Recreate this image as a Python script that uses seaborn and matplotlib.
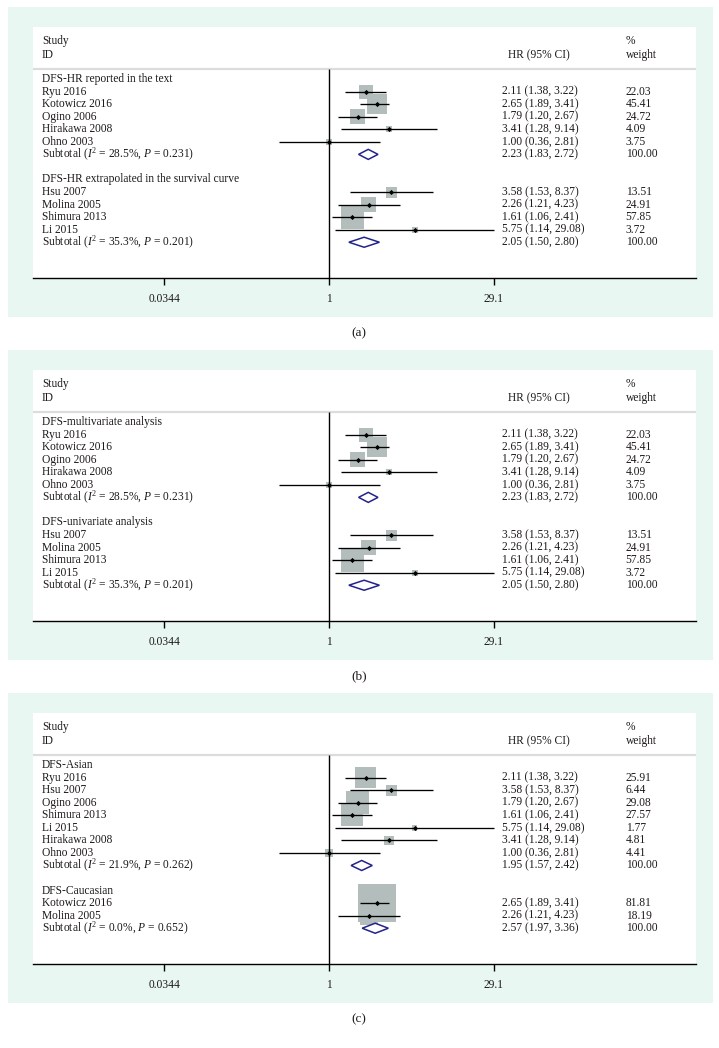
import numpy as np
import pandas as pd
import matplotlib
matplotlib.use("Agg")
import matplotlib.pyplot as plt
import matplotlib.transforms as mtransforms
from matplotlib.patches import Rectangle, Polygon
from matplotlib.ticker import NullLocator
import seaborn as sns

sns.set_style("white")
plt.rcParams['font.family'] = ['Liberation Serif', 'DejaVu Serif']
plt.rcParams['mathtext.fontset'] = 'custom'
plt.rcParams['mathtext.rm'] = 'Liberation Serif'
plt.rcParams['mathtext.it'] = 'Liberation Serif:italic'

# DFS-HR reported in the text / multivariate
ids_text = ["Ryu 2016", "Kotowicz 2016", "Ogino 2006", "Hirakawa 2008", "Ohno 2003"]
hr_text = [2.11, 2.65, 1.79, 3.41, 1.00]
lo_text = [1.38, 1.89, 1.20, 1.28, 0.36]
hi_text = [3.22, 3.41, 2.67, 9.14, 2.81]
w_text = [22.03, 45.41, 24.72, 4.09, 3.75]
sub_text = [2.23, 1.83, 2.72]
het_text = ["28.5%", "0.231"]

# DFS-HR extrapolated in the survival curve / univariate
ids_curve = ["Hsu 2007", "Molina 2005", "Shimura 2013", "Li 2015"]
hr_curve = [3.58, 2.26, 1.61, 5.75]
lo_curve = [1.53, 1.21, 1.06, 1.14]
hi_curve = [8.37, 4.23, 2.41, 29.08]
w_curve = [13.51, 24.91, 57.85, 3.72]
sub_curve = [2.05, 1.50, 2.80]
het_curve = ["35.3%", "0.201"]

# DFS-Asian
ids_asian = ["Ryu 2016", "Hsu 2007", "Ogino 2006", "Shimura 2013", "Li 2015", "Hirakawa 2008", "Ohno 2003"]
hr_asian = [2.11, 3.58, 1.79, 1.61, 5.75, 3.41, 1.00]
lo_asian = [1.38, 1.53, 1.20, 1.06, 1.14, 1.28, 0.36]
hi_asian = [3.22, 8.37, 2.67, 2.41, 29.08, 9.14, 2.81]
w_asian = [25.91, 6.44, 29.08, 27.57, 1.77, 4.81, 4.41]
sub_asian = [1.95, 1.57, 2.42]
het_asian = ["21.9%", "0.262"]

# DFS-Caucasian
ids_cauc = ["Kotowicz 2016", "Molina 2005"]
hr_cauc = [2.65, 2.26]
lo_cauc = [1.89, 1.21]
hi_cauc = [3.41, 4.23]
w_cauc = [81.81, 18.19]
sub_cauc = [2.57, 1.97, 3.36]
het_cauc = ["0.0%", "0.652"]

xticks = [0.0344, 1, 29.1]
xtick_labels = ["0.0344", "1", "29.1"]

W, H = 719, 1048
fig = plt.figure(figsize=(W / 100, H / 100), dpi=100)
mint = "#e9f7f3"
txt = "#1e1a1b"
box_gray = "#b3bdbb"
navy = "#23238c"
fs = 8.3


def panel(top, groups, k, caption):
    fig.add_artist(Rectangle((8 / W, 1 - (top + 310) / H), 705 / W, 310 / H,
                             transform=fig.transFigure, facecolor=mint,
                             edgecolor='none', zorder=-1))
    ax = fig.add_axes([33 / W, 1 - (top + 271) / H, 663 / W, 251 / H])
    ax.set_facecolor("white")
    tr = mtransforms.blended_transform_factory(ax.transAxes, ax.transData)

    # шапка таблицы
    ax.text(0.0136, -3.03, "Study", transform=tr, ha='left', va='center', fontsize=fs, color=txt)
    ax.text(0.0136, -1.91, "ID", transform=tr, ha='left', va='center', fontsize=fs, color=txt)
    ax.text(0.763, -1.91, "HR (95% CI)", transform=tr, ha='center', va='center', fontsize=fs, color=txt)
    ax.text(0.894, -3.03, "%", transform=tr, ha='left', va='center', fontsize=fs, color=txt)
    ax.text(0.894, -1.91, "weight", transform=tr, ha='left', va='center', fontsize=fs, color=txt)
    ax.axhline(-0.8, color="#dcdcdc", lw=1.6, zorder=1)
    ax.vlines(1, -0.8, 15.85, color='black', lw=1, zorder=2)

    row = 0
    for title, ids, hr, lo, hi, w, sub, het in groups:
        ax.text(0.0136, row, title, transform=tr, ha='left', va='center', fontsize=fs, color=txt)
        row += 1
        rows = np.arange(row, row + len(ids))
        df = pd.DataFrame({"hr": hr, "row": rows, "w": w})
        sns.scatterplot(data=df, x="hr", y="row", s=((k * 0.72) ** 2 * df["w"]).to_numpy(),
                        marker="s", color=box_gray, linewidth=0, ax=ax, legend=False, zorder=1)
        ax.hlines(rows, lo, hi, color='black', lw=0.95, zorder=3)
        ax.scatter(hr, rows, marker='D', s=7, color='black', linewidths=0, zorder=4)
        for r, name, h, l, u, ww in zip(rows, ids, hr, lo, hi, w):
            ax.text(0.0136, r, name, transform=tr, ha='left', va='center', fontsize=fs, color=txt)
            ax.text(0.707, r, f"{h:.2f} ({l:.2f}, {u:.2f})", transform=tr, ha='left', va='center', fontsize=fs, color=txt)
            ax.text(0.894, r, f"{ww:.2f}", transform=tr, ha='left', va='center', fontsize=fs, color=txt)
        row += len(ids)
        # суммарная оценка - ромб
        est, slo, shi = sub
        ax.add_patch(Polygon([[slo, row], [est, row - 0.4], [shi, row], [est, row + 0.4]],
                             closed=True, facecolor='white', edgecolor=navy, lw=1.1, zorder=4))
        ax.text(0.0136, row, f"Subtotal ($I^2$ = {het[0]}, $P$ = {het[1]})", transform=tr,
                ha='left', va='center', fontsize=fs, color=txt)
        ax.text(0.707, row, f"{est:.2f} ({slo:.2f}, {shi:.2f})", transform=tr, ha='left', va='center', fontsize=fs, color=txt)
        ax.text(0.894, row, "100.00", transform=tr, ha='left', va='center', fontsize=fs, color=txt)
        row += 2

    ax.set_xscale('log')
    ax.set_xlim(np.exp(-6.05), np.exp(7.5))
    ax.set_ylim(15.85, -4.15)
    ax.set_xticks(xticks)
    ax.set_xticklabels(xtick_labels)
    ax.xaxis.set_minor_locator(NullLocator())
    ax.set_yticks([])
    ax.set_xlabel("")
    ax.set_ylabel("")
    for s in ['top', 'left', 'right']:
        ax.spines[s].set_visible(False)
    ax.spines['bottom'].set_color('black')
    ax.spines['bottom'].set_linewidth(1)
    ax.tick_params(axis='x', bottom=True, direction='out', length=5, width=1,
                   color='black', pad=6, labelsize=fs, labelcolor=txt)
    fig.text(359 / W, 1 - (top + 326) / H, caption, ha='center', va='center', fontsize=9.5, color=txt)


groups_a = [
    ("DFS-HR reported in the text", ids_text, hr_text, lo_text, hi_text, w_text, sub_text, het_text),
    ("DFS-HR extrapolated in the survival curve", ids_curve, hr_curve, lo_curve, hi_curve, w_curve, sub_curve, het_curve),
]
groups_b = [
    ("DFS-multivariate analysis", ids_text, hr_text, lo_text, hi_text, w_text, sub_text, het_text),
    ("DFS-univariate analysis", ids_curve, hr_curve, lo_curve, hi_curve, w_curve, sub_curve, het_curve),
]
groups_c = [
    ("DFS-Asian", ids_asian, hr_asian, lo_asian, hi_asian, w_asian, sub_asian, het_asian),
    ("DFS-Caucasian", ids_cauc, hr_cauc, lo_cauc, hi_cauc, w_cauc, sub_cauc, het_cauc),
]

panel(7, groups_a, 3.0, "(a)")
panel(350, groups_b, 3.0, "(b)")
panel(693, groups_c, 4.2, "(c)")

fig.savefig("out.png", dpi=100)
